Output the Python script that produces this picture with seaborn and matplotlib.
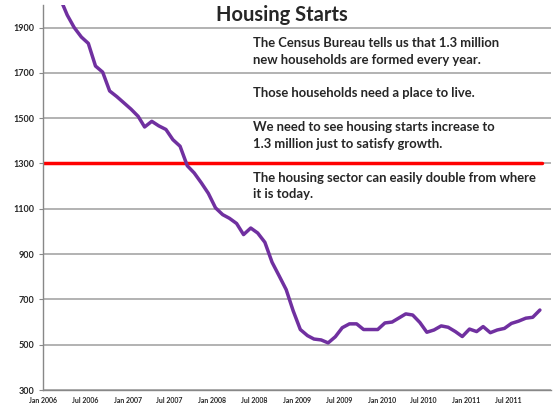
import pandas as pd
import matplotlib.pyplot as plt
import seaborn as sns

sns.set_style('white')
plt.rcParams['font.family'] = ['Lato', 'DejaVu Sans']

# Monthly housing starts (thousands, smoothed), Jan 2006 - Nov 2011
months = pd.date_range('2006-01-01', periods=71, freq='MS') + pd.Timedelta(days=14)
starts = [2150, 2090, 2030, 1955, 1900, 1858, 1830, 1730, 1703, 1620,
          1595, 1568, 1540, 1508, 1461, 1486, 1466, 1450, 1405, 1376,
          1290, 1258, 1214, 1168, 1104, 1074, 1058, 1035, 986, 1015,
          993, 952, 864, 805, 743, 650, 567, 540, 525, 521,
          508, 535, 575, 592, 592, 567, 567, 567, 596, 600,
          617, 636, 631, 598, 555, 565, 583, 577, 558, 536,
          569, 558, 580, 553, 565, 572, 594, 604, 617, 621,
          653]
target = 1300

tick_dates = pd.date_range('2006-01-01', '2011-07-01', freq='6MS')
tick_labels = [d.strftime('%b %Y') for d in tick_dates]
y_ticks = [300, 500, 700, 900, 1100, 1300, 1500, 1700, 1900]

# annotation lines and their vertical positions (figure fraction)
note_lines = [
    (0.893, "The Census Bureau tells us that 1.3 million"),
    (0.852, "new households are formed every year."),
    (0.770, "Those households need a place to live."),
    (0.687, "We need to see housing starts increase to"),
    (0.645, "1.3 million just to satisfy growth."),
    (0.561, "The housing sector can easily double from where"),
    (0.521, "it is today."),
]

df = pd.DataFrame({'date': months, 'starts': starts})

fig = plt.figure(figsize=(5.53, 4.05), dpi=100)
ax = fig.add_axes([0.078, 0.037, 0.918, 0.951])

ax.set_ylim(300, 2000)
ax.set_xlim(pd.Timestamp('2006-01-01'), pd.Timestamp('2012-01-01'))
ax.set_yticks(y_ticks)
ax.yaxis.grid(True, color='#A6A6A6', linewidth=1.2)
ax.set_axisbelow(True)

ax.axhline(target, xmax=0.982, color='#FF0000', linewidth=2.5, zorder=2)
sns.lineplot(data=df, x='date', y='starts', color='#7030A0', linewidth=2.5, ax=ax, zorder=3)

ax.set_xticks(tick_dates)
ax.set_xticklabels(tick_labels)
ax.tick_params(axis='x', labelsize=5, length=3, color='#888888', pad=2)
ax.tick_params(axis='y', labelsize=6.5, length=3, color='#888888', pad=3, left=True)
for lbl in ax.get_xticklabels() + ax.get_yticklabels():
    lbl.set_fontweight('bold')
ax.set_xlabel('')
ax.set_ylabel('')

for side in ['top', 'right']:
    ax.spines[side].set_visible(False)
for side in ['left', 'bottom']:
    ax.spines[side].set_color('#888888')
    ax.spines[side].set_linewidth(1.0)

fig.text(0.510, 0.962, 'Housing Starts', ha='center', va='center',
         fontsize=14.5, fontweight='bold')
for y, txt in note_lines:
    fig.text(0.457, y, txt, ha='left', va='center', fontsize=9.4,
             fontweight='bold')

fig.savefig('out.png', dpi=100)
